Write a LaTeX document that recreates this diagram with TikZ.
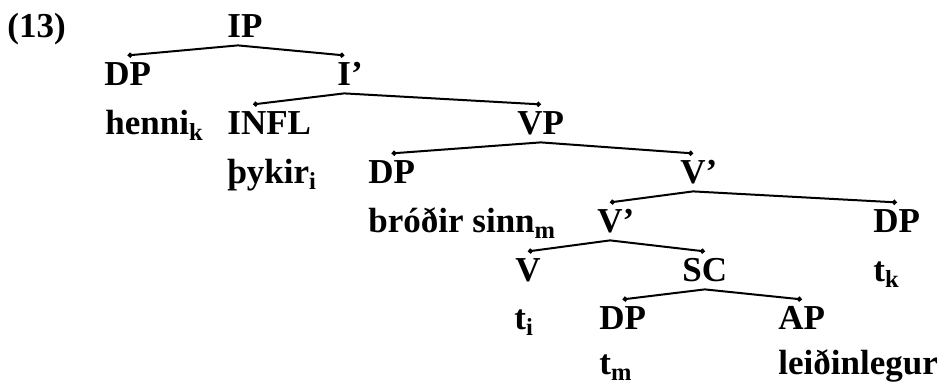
\documentclass[tikz,border=0pt]{standalone}
\usepackage{fontspec}
\setmainfont{Liberation Serif}
\usetikzlibrary{arrows.meta}

\tikzset{
	cat/.style={anchor=base west, inner xsep=0pt, inner ysep=3.5pt, text height=11.6pt, text depth=0pt, font=\fontsize{17.5}{20}\selectfont\bfseries},
	word/.style={anchor=base west, inner sep=0pt, font=\fontsize{17.5}{20}\selectfont\bfseries},
	branch/.style={line width=1pt, {Circle[length=2.4pt]}-{Circle[length=2.4pt]}}
}

\begin{document}
\begin{tikzpicture}[x=0.5pt, y=-0.5pt]
	\useasboundingbox (0,0) rectangle (940,383);
	\node [word] (ex) at (7,38) {(13)};
	\node [cat] (ip) at (227,38) {IP};
	\node [cat] (dp1) at (104,86) {DP};
	\node [cat] (ibar) at (337,86) {I\rlap{'}};
	\node [word] (henni) at (105,135) {henni\textsubscript{k}};
	\node [cat] (infl) at (227,135) {INFL};
	\node [cat] (vp) at (517,135) {VP};
	\node [word] (thykir) at (227,184) {þykir\textsubscript{i}};
	\node [cat] (dp2) at (368,184) {DP};
	\node [cat] (vbar1) at (680,184) {V\rlap{'}};
	\node [word] (brodir) at (368,233) {bróðir sinn\textsubscript{m}};
	\node [cat] (vbar2) at (597,233) {V\rlap{'}};
	\node [cat] (dp3) at (873,233) {DP};
	\node [cat] (v) at (515,282) {V};
	\node [cat] (sc) at (682,282) {SC};
	\node [word] (tk) at (873,282) {t\textsubscript{k}};
	\node [word] (ti) at (514,330) {t\textsubscript{i}};
	\node [cat] (dp4) at (599,330) {DP};
	\node [cat] (ap) at (778,330) {AP};
	\node [word] (tm) at (599,375) {t\textsubscript{m}};
	\node [word] (leid) at (778,375) {leiðinlegur};

	\draw [branch] (dp1.north) -- ([xshift=-3.5pt]ip.south) -- (ibar.north);
	\draw [branch] ([xshift=-8pt]infl.north) -- (ibar.south) -- (vp.north);
	\draw [branch] (dp2.north) -- (vp.south) -- (vbar1.north);
	\draw [branch] (vbar2.north) -- (vbar1.south) -- (dp3.north);
	\draw [branch] (v.north) -- (vbar2.south) -- (sc.north);
	\draw [branch] (dp4.north) -- (sc.south) -- (ap.north);
\end{tikzpicture}
\end{document}
